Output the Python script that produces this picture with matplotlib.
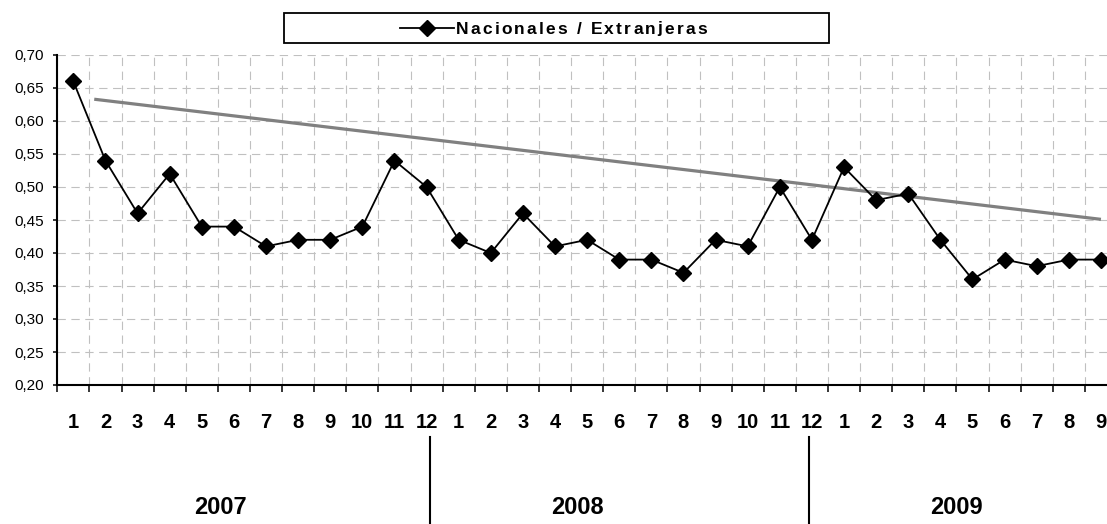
import matplotlib
matplotlib.use('Agg')
import matplotlib.pyplot as plt
from matplotlib.lines import Line2D
from matplotlib.patches import Rectangle
from matplotlib.font_manager import FontProperties
import numpy as np

plt.rcParams['font.family'] = ['Liberation Sans', 'DejaVu Sans']
plt.rcParams['lines.scale_dashes'] = False

# ---------------- data ----------------
years = ['2007', '2008', '2009']
month_labels = ([str(m) for m in range(1, 13)] +
                [str(m) for m in range(1, 13)] +
                [str(m) for m in range(1, 10)])
ratio = [0.66, 0.54, 0.46, 0.52, 0.44, 0.44, 0.41, 0.42, 0.42, 0.44, 0.54, 0.50,
         0.42, 0.40, 0.46, 0.41, 0.42, 0.39, 0.39, 0.37, 0.42, 0.41, 0.50, 0.42,
         0.53, 0.48, 0.49, 0.42, 0.36, 0.39, 0.38, 0.39, 0.39]
trend_x = [1.65, 33.0]
trend_y = [0.633, 0.451]
series_name = 'Nacionales / Extranjeras'
y_ticks = [0.20, 0.25, 0.30, 0.35, 0.40, 0.45, 0.50, 0.55, 0.60, 0.65, 0.70]
year_label_x = [5.57, 16.7, 28.5]
separator_x = [12.1, 23.9]

# ---------------- figure ----------------
W, H = 1107, 524
fig = plt.figure(figsize=(W / 100, H / 100), dpi=100)
ax = fig.add_axes([57.3 / W, (H - 385) / H, (1117 - 57.3) / W, 330 / H])

n = len(ratio)
x = np.arange(1, n + 1)
ax.set_xlim(0.5, n + 0.5)
ax.set_ylim(0.20, 0.70)

grid_kw = dict(color='#c0c0c0', linewidth=0.8, linestyle=(0, (6, 4)))
ax.set_axisbelow(True)

# y axis
ax.set_yticks(y_ticks)
ax.set_yticklabels([f'{v:.2f}'.replace('.', ',') for v in y_ticks])
ax.tick_params(axis='y', which='major', length=3, width=1.1, pad=6.5,
               labelsize=11, direction='out')
ax.yaxis.grid(True, **grid_kw)

# x axis: boundaries as major ticks, month labels as minor ticks
ax.set_xticks(np.arange(0.5, n + 1, 1.0))
ax.set_xticklabels([])
ax.set_xticks(x, labels=month_labels, minor=True)
ax.tick_params(axis='x', which='major', length=5, width=1.1, direction='out')
ax.tick_params(axis='x', which='minor', length=0, pad=20, labelsize=14.5)
for lbl in ax.get_xticklabels(minor=True):
    lbl.set_fontweight('bold')
ax.xaxis.grid(True, which='major', **grid_kw)

for s in ['top', 'right']:
    ax.spines[s].set_visible(False)
for s in ['left', 'bottom']:
    ax.spines[s].set_linewidth(1.5)
    ax.spines[s].set_color('black')

# trend line
ax.plot(trend_x, trend_y, color='#808080', linewidth=2.3, solid_capstyle='butt',
        zorder=3)
# series
ax.plot(x, ratio, color='black', linewidth=1.3, marker='D', markersize=8.5,
        markerfacecolor='black', markeredgecolor='black', zorder=4,
        clip_on=False)

# year labels and separators below the axis
xt = ax.get_xaxis_transform()
for xs in separator_x:
    ax.plot([xs, xs], [-(437 - 385) / 330, -(524 - 385) / 330], color='black',
            linewidth=1.5, transform=xt, clip_on=False)
for yx, yl in zip(year_label_x, years):
    ax.text(yx, -(508 - 385) / 330, yl, transform=xt, ha='center', va='center',
            fontsize=17, fontweight='bold')

# legend box
fig.add_artist(Rectangle((284 / W, (H - 43) / H), 545 / W, 30 / H,
                         transform=fig.transFigure, facecolor='white',
                         edgecolor='black', linewidth=1.3))
ly = (H - 28) / H
fig.add_artist(Line2D([400 / W, 427 / W, 454 / W], [ly, ly, ly],
                      transform=fig.transFigure, color='black', linewidth=1.3,
                      marker='D', markersize=8, markevery=[1]))

# letter-spaced legend label
renderer = fig.canvas.get_renderer()
fp = FontProperties(family=['Liberation Sans', 'DejaVu Sans'], weight='bold',
                    size=12.5)
widths = [renderer.get_text_width_height_descent(c, fp, ismath=False)[0]
          for c in series_name]
start_px, target_w = 456.0, 251.0
gap = (target_w - sum(widths)) / (len(series_name) - 1)
base_y = (H - 33.5) / H
cur = start_px
for c, w in zip(series_name, widths):
    if c != ' ':
        fig.text(cur / W, base_y, c, ha='left', va='baseline',
                 fontproperties=fp)
    cur += w + gap

fig.savefig('out.png', dpi=100)
